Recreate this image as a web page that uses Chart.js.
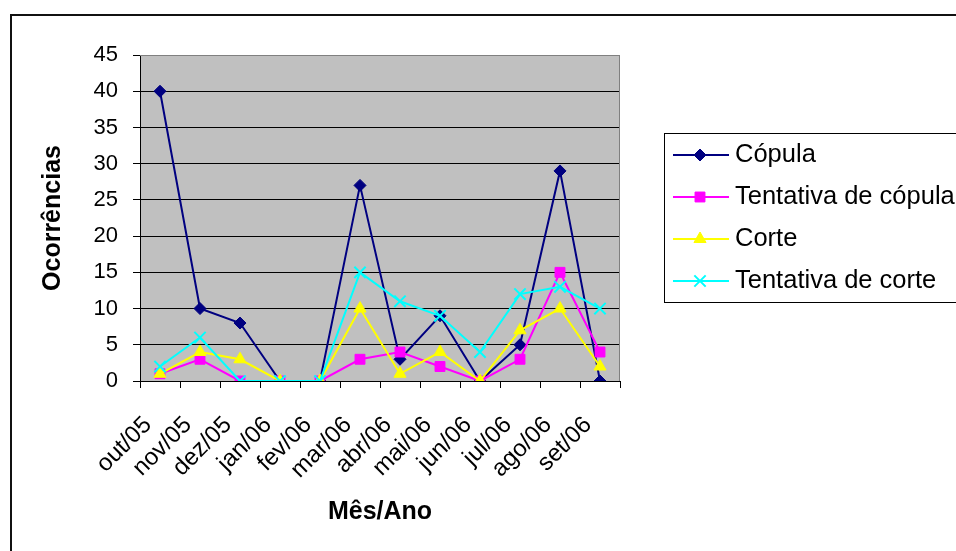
<!DOCTYPE html>
<html>
<head>
<meta charset="utf-8">
<script src="https://cdn.jsdelivr.net/npm/chart.js@4/dist/chart.umd.min.js"></script>
<style>
  body { margin: 0; background: #fff; }
  #wrap { width: 956px; height: 551px; }
</style>
</head>
<body>
<div id="wrap"><canvas id="grafico" width="956" height="551"></canvas></div>
<script>
const meses = ["out/05", "nov/05", "dez/05", "jan/06", "fev/06", "mar/06", "abr/06", "mai/06", "jun/06", "jul/06", "ago/06", "set/06"];
const copula = [40, 10, 8, 0, 0, 27, 3, 9, 0, 5, 29, 0];
const tentativaCopula = [1, 3, 0, 0, 0, 3, 4, 2, 0, 3, 15, 4];
const corte = [1, 4, 3, 0, 0, 10, 1, 4, 0, 7, 10, 2];
const tentativaCorte = [2, 6, 0, 0, 0, 15, 11, 9, 4, 12, 13, 10];

const fonte = "'Liberation Sans', Arial, sans-serif";

// fundo cinza da area do grafico + moldura externa
const fundoPlugin = {
  id: "fundo",
  beforeDraw(chart) {
    const ctx = chart.ctx;
    const a = chart.chartArea;
    ctx.save();
    ctx.fillStyle = "#fff";
    ctx.fillRect(0, 0, chart.width, chart.height);
    ctx.strokeStyle = "#111";
    ctx.lineWidth = 2;
    ctx.strokeRect(11, 15, 1000, 600);
    ctx.fillStyle = "#c0c0c0";
    ctx.fillRect(a.left, a.top, a.right - a.left, a.bottom - a.top);
    ctx.restore();
  },
  beforeDatasetsDraw(chart) {
    const ctx = chart.ctx;
    const a = chart.chartArea;
    ctx.save();
    ctx.strokeStyle = "#808080";
    ctx.lineWidth = 1;
    ctx.beginPath();
    ctx.moveTo(a.left, a.top + 0.5);
    ctx.lineTo(a.right - 0.5, a.top + 0.5);
    ctx.lineTo(a.right - 0.5, a.bottom);
    ctx.stroke();
    ctx.restore();
  }
};

// legenda desenhada a mao, caixa cortada na borda direita
const legendaPlugin = {
  id: "legenda",
  afterDraw(chart) {
    const ctx = chart.ctx;
    ctx.save();
    ctx.strokeStyle = "#000";
    ctx.lineWidth = 1;
    ctx.strokeRect(664.5, 133.5, 400, 169);
    ctx.font = "25.5px " + fonte;
    ctx.textBaseline = "middle";
    ctx.fillStyle = "#000";
    chart.data.datasets.forEach((ds, i) => {
      const y = 155 + i * 42;
      ctx.strokeStyle = ds.borderColor;
      ctx.lineWidth = 2;
      ctx.beginPath();
      ctx.moveTo(673, y);
      ctx.lineTo(729, y);
      ctx.stroke();
      ctx.fillStyle = ds.pointBackgroundColor;
      ctx.strokeStyle = ds.pointBorderColor;
      ctx.lineWidth = ds.pointBorderWidth;
      Chart.helpers.drawPoint(ctx, { pointStyle: ds.pointStyle, radius: ds.pointRadius, borderWidth: ds.pointBorderWidth }, 700, y);
      ctx.fillStyle = "#000";
      ctx.fillText(ds.label, 735, y);
    });
    ctx.restore();
  }
};

new Chart(document.getElementById("grafico"), {
  type: "line",
  data: {
    labels: meses,
    datasets: [
      {
        label: "Cópula",
        data: copula,
        borderColor: "#000080",
        pointBackgroundColor: "#000080",
        pointBorderColor: "#000080",
        pointStyle: "rectRot",
        pointRadius: 6,
        pointBorderWidth: 1,
        order: 4
      },
      {
        label: "Tentativa de cópula",
        data: tentativaCopula,
        borderColor: "#ff00ff",
        pointBackgroundColor: "#ff00ff",
        pointBorderColor: "#ff00ff",
        pointStyle: "rect",
        pointRadius: 7,
        pointBorderWidth: 1,
        order: 3
      },
      {
        label: "Corte",
        data: corte,
        borderColor: "#ffff00",
        pointBackgroundColor: "#ffff00",
        pointBorderColor: "#ffff00",
        pointStyle: "triangle",
        pointRadius: 7,
        pointBorderWidth: 1,
        order: 2
      },
      {
        label: "Tentativa de corte",
        data: tentativaCorte,
        borderColor: "#00ffff",
        pointBackgroundColor: "#00ffff",
        pointBorderColor: "#00ffff",
        pointStyle: "crossRot",
        pointRadius: 8,
        pointBorderWidth: 2,
        order: 1
      }
    ]
  },
  options: {
    responsive: false,
    animation: false,
    layout: { padding: { left: 0, top: 55, right: 336, bottom: 0 } },
    elements: {
      line: { borderWidth: 2, tension: 0 },
      point: { hoverRadius: 6 }
    },
    plugins: {
      legend: { display: false },
      tooltip: { enabled: false }
    },
    scales: {
      x: {
        offset: true,
        afterFit: (scale) => { scale.height = 170; },
        grid: {
          offset: true,
          drawOnChartArea: false,
          drawTicks: true,
          tickLength: 7,
          color: "#000"
        },
        border: { color: "#000", width: 1 },
        ticks: {
          autoSkip: false,
          minRotation: 45,
          maxRotation: 45,
          padding: 23,
          labelOffset: -12,
          color: "#000",
          font: { family: fonte, size: 24 }
        },
        title: {
          display: true,
          text: "Mês/Ano",
          color: "#000",
          font: { family: fonte, size: 25, weight: "bold" },
          padding: { top: 0, bottom: 24 }
        }
      },
      y: {
        min: 0,
        max: 45,
        afterFit: (scale) => { scale.width = 140; },
        grid: {
          color: (c) => (c.tick && c.tick.value === 45 ? "#808080" : "#000"),
          tickColor: "#000",
          tickLength: 7,
          lineWidth: 1
        },
        border: { color: "#000", width: 1 },
        ticks: {
          stepSize: 5,
          padding: 15,
          color: "#000",
          font: { family: fonte, size: 22 }
        },
        title: {
          display: true,
          text: "Ocorrências",
          color: "#000",
          font: { family: fonte, size: 25, weight: "bold" },
          padding: { top: 38, bottom: 0 }
        }
      }
    }
  },
  plugins: [fundoPlugin, legendaPlugin]
});
</script>
</body>
</html>
